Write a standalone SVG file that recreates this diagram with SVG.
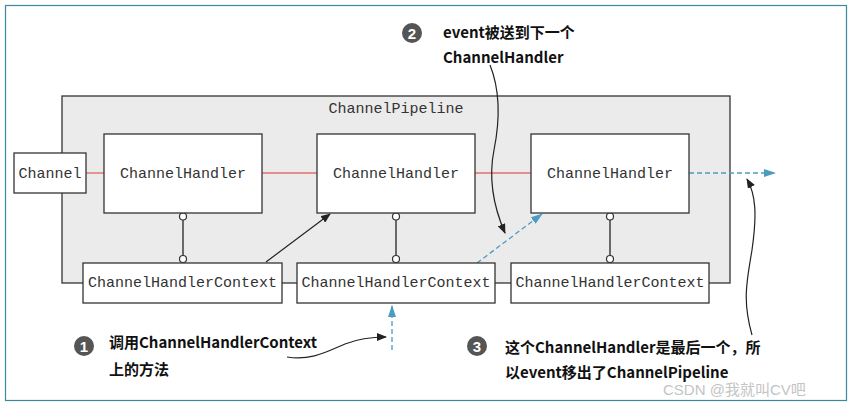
<svg xmlns="http://www.w3.org/2000/svg" width="853" height="408" viewBox="0 0 853 408">
<style>
.box{fill:#fff;stroke:#333;stroke-width:1.3}
.mono{font-family:"Liberation Mono","Courier New",monospace;font-size:15px;fill:#333;text-anchor:middle}
.note{font-family:"Noto Sans CJK SC","Noto Sans",sans-serif;font-size:15px;font-weight:bold;fill:#111}
.num{fill:#555}
.numt{font-family:"Liberation Sans",Arial,sans-serif;font-size:15px;font-weight:bold;fill:#fff;text-anchor:middle}
.red{stroke:#e07070;stroke-width:1.4;fill:none}
.blue{stroke:#4a9cc0;stroke-width:1.3;stroke-dasharray:5,3;fill:none}
.blk{stroke:#222;stroke-width:1.2;fill:none}
.link{stroke:#333;stroke-width:1.4}
.dot{fill:#fff;stroke:#333;stroke-width:1.2}
</style>
<defs>
<marker id="ab" markerWidth="10" markerHeight="8" refX="9" refY="4" orient="auto" markerUnits="userSpaceOnUse"><path d="M0,0 L10,4 L0,8 Z" fill="#222"/></marker>
<marker id="au" markerWidth="12" markerHeight="8" refX="11" refY="4" orient="auto" markerUnits="userSpaceOnUse"><path d="M0,0 L12,4 L0,8 Z" fill="#4a9cc0"/></marker>
</defs>
<rect x="0" y="0" width="853" height="408" fill="#fff"/>
<rect x="5.5" y="5.5" width="841" height="395" fill="#fff" stroke="#3a8a9a" stroke-width="1.2"/>

<g id="pipeline">
<rect x="62" y="96" width="668" height="187" fill="#ebebeb" stroke="#333" stroke-width="1.3"/>
<text class="mono" x="396" y="113">ChannelPipeline</text>
</g>

<g id="connectors">
<line class="red" x1="86" y1="173" x2="104" y2="173"/>
<line class="red" x1="262" y1="173" x2="317" y2="173"/>
<line class="red" x1="475" y1="173" x2="531" y2="173"/>
<line class="blue" x1="689" y1="173" x2="775" y2="173" marker-end="url(#au)"/>
<line class="link" x1="183" y1="217" x2="183" y2="259"/>
<line class="link" x1="396" y1="217" x2="396" y2="259"/>
<line class="link" x1="610" y1="217" x2="610" y2="259"/>
<circle class="dot" cx="183" cy="216.5" r="3.5"/>
<circle class="dot" cx="183" cy="259" r="3.5"/>
<circle class="dot" cx="396" cy="216.5" r="3.5"/>
<circle class="dot" cx="396" cy="259" r="3.5"/>
<circle class="dot" cx="610" cy="216.5" r="3.5"/>
<circle class="dot" cx="610" cy="259" r="3.5"/>
<line class="blk" x1="266" y1="262" x2="330" y2="214" marker-end="url(#ab)"/>
<line class="blue" x1="477" y1="263" x2="542" y2="214" marker-end="url(#au)"/>
<line class="blue" x1="392" y1="350" x2="392" y2="306" marker-end="url(#au)"/>
<path class="blk" d="M287,357 C312,361 328,351 345,344 C360,338 372,337 386,337" marker-end="url(#ab)"/>
<path class="blk" d="M490,65 C500,90 500,120 494,150 C488,180 495,210 505,233" marker-end="url(#ab)"/>
<path class="blk" d="M752,335 C742,300 747,280 752,250 C757,215 756,195 747,179" marker-end="url(#ab)"/>
</g>

<g id="channel">
<rect class="box" x="14" y="153" width="72" height="40"/>
<text class="mono" x="50" y="178">Channel</text>
</g>
<g id="handler1">
<rect class="box" x="104" y="134" width="158" height="79"/>
<text class="mono" x="183" y="178">ChannelHandler</text>
</g>
<g id="handler2">
<rect class="box" x="317" y="134" width="158" height="79"/>
<text class="mono" x="396" y="178">ChannelHandler</text>
</g>
<g id="handler3">
<rect class="box" x="531" y="134" width="158" height="79"/>
<text class="mono" x="610" y="178">ChannelHandler</text>
</g>
<g id="context1">
<rect class="box" x="83" y="263" width="199" height="40"/>
<text class="mono" x="182.5" y="287">ChannelHandlerContext</text>
</g>
<g id="context2">
<rect class="box" x="297" y="263" width="198" height="40"/>
<text class="mono" x="396" y="287">ChannelHandlerContext</text>
</g>
<g id="context3">
<rect class="box" x="511" y="263" width="198" height="40"/>
<text class="mono" x="610" y="287">ChannelHandlerContext</text>
</g>

<g id="note2">
<circle class="num" cx="412" cy="33" r="10"/>
<text class="numt" x="412" y="38.5">2</text>
<text class="note" x="443" y="38">event被送到下一个</text>
<text class="note" x="443" y="63">ChannelHandler</text>
</g>
<g id="note1">
<circle class="num" cx="84" cy="346" r="10"/>
<text class="numt" x="84" y="351.5">1</text>
<text class="note" x="109" y="348">调用ChannelHandlerContext</text>
<text class="note" x="109" y="375">上的方法</text>
</g>
<g id="note3">
<circle class="num" cx="477" cy="346" r="10"/>
<text class="numt" x="477" y="351.5">3</text>
<text class="note" x="505" y="353">这个ChannelHandler是最后一个，所</text>
<text class="note" x="505" y="378">以event移出了ChannelPipeline</text>
</g>
<text x="663" y="395" font-family="'Liberation Sans','Noto Sans CJK SC',sans-serif" font-size="15" fill="#c4c4c4">CSDN @我就叫CV吧</text>
</svg>
